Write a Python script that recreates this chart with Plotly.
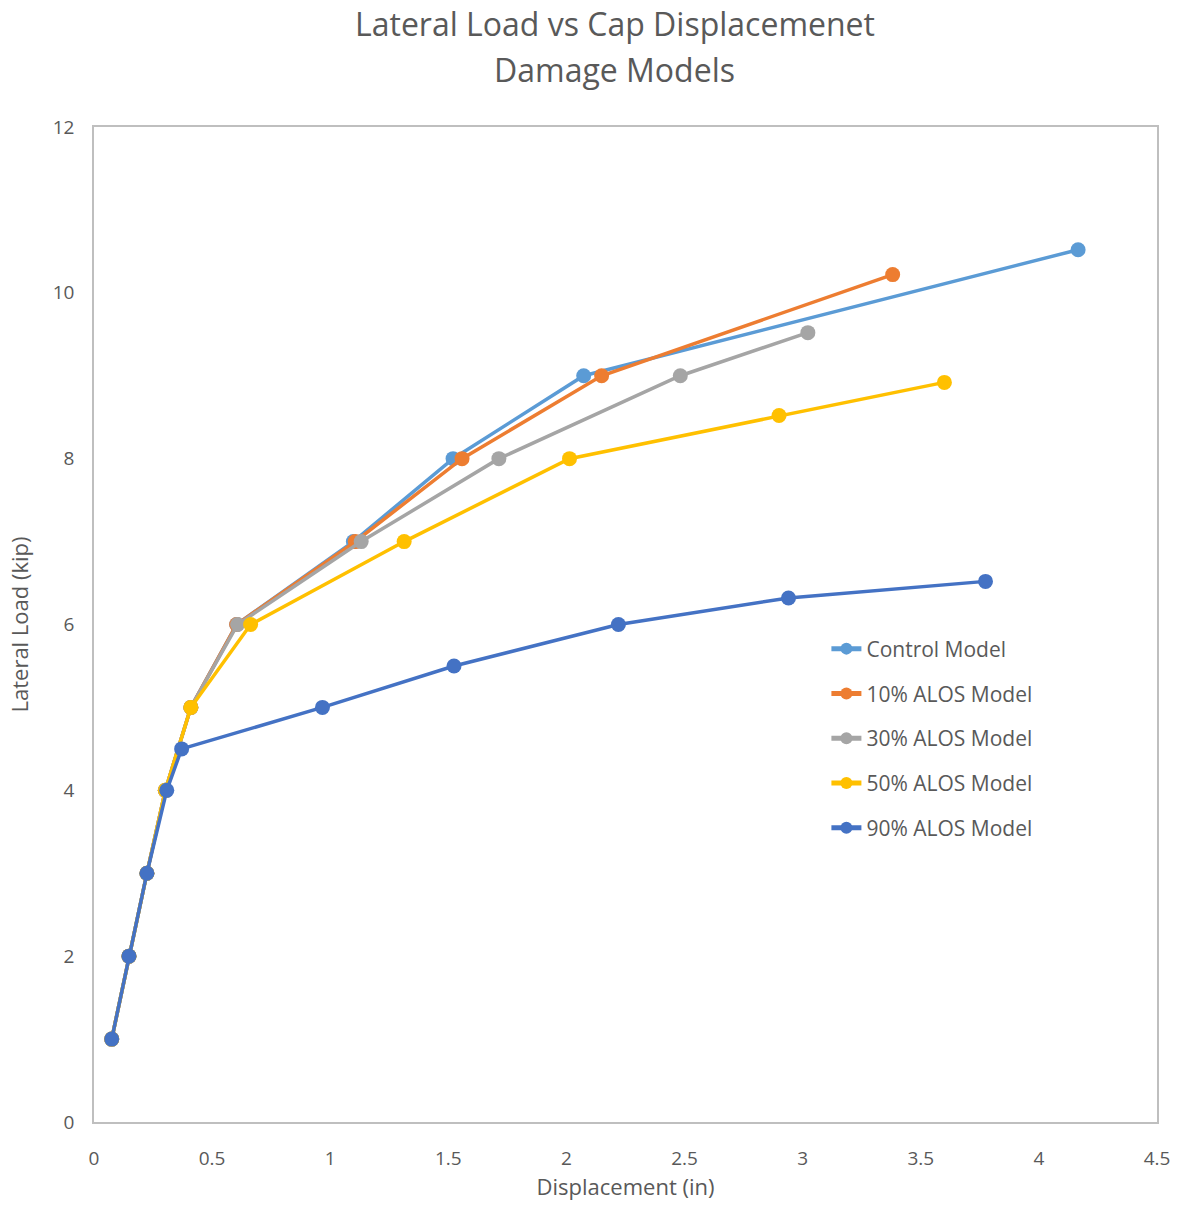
import plotly.graph_objects as go

# Lateral load (kip) vs cap displacement (in) for each damage model
control_disp = [0.075, 0.148, 0.224, 0.302, 0.41, 0.604, 1.098, 1.52, 2.073, 4.166]
control_load = [1, 2, 3, 4, 5, 6, 7, 8, 9, 10.52]

alos10_disp = [0.075, 0.148, 0.224, 0.302, 0.41, 0.604, 1.106, 1.558, 2.149, 3.381]
alos10_load = [1, 2, 3, 4, 5, 6, 7, 8, 9, 10.22]

alos30_disp = [0.075, 0.148, 0.224, 0.302, 0.41, 0.608, 1.131, 1.714, 2.482, 3.022]
alos30_load = [1, 2, 3, 4, 5, 6, 7, 8, 9, 9.52]

alos50_disp = [0.075, 0.148, 0.224, 0.302, 0.41, 0.663, 1.313, 2.013, 2.9, 3.6]
alos50_load = [1, 2, 3, 4, 5, 6, 7, 8, 8.52, 8.92]

alos90_disp = [0.075, 0.148, 0.224, 0.308, 0.371, 0.967, 1.524, 2.22, 2.94, 3.774]
alos90_load = [1, 2, 3, 4, 4.5, 5, 5.5, 6, 6.32, 6.52]

series = [
    ("Control Model", control_disp, control_load, "#5B9BD5"),
    ("10% ALOS Model", alos10_disp, alos10_load, "#ED7D31"),
    ("30% ALOS Model", alos30_disp, alos30_load, "#A5A5A5"),
    ("50% ALOS Model", alos50_disp, alos50_load, "#FFC000"),
    ("90% ALOS Model", alos90_disp, alos90_load, "#4472C4"),
]

title_lines = ["Lateral Load vs Cap Displacemenet", "Damage Models"]

x_ticks = [0, 0.5, 1, 1.5, 2, 2.5, 3, 3.5, 4, 4.5]
y_ticks = [0, 2, 4, 6, 8, 10, 12]

FONT = "Open Sans, Lato, sans-serif"
TEXT = "#595959"
AXIS = "#BFBFBF"

fig = go.Figure()
for i, (name, xs, ys, color) in enumerate(series):
    fig.add_trace(go.Scatter(
        x=xs, y=ys, name=name, mode="lines+markers",
        legendgroup=f"g{i}",
        line=dict(color=color, width=3.5),
        marker=dict(color=color, size=15),
    ))

# two-line chart title, placed as annotations above the plot area
for text, ypos in zip(title_lines, [1.1045, 1.0573]):
    fig.add_annotation(
        text=text, xref="paper", yref="paper", x=0.4897, y=ypos,
        xanchor="center", yanchor="middle", showarrow=False,
        font=dict(family=FONT, size=32, color=TEXT),
    )

fig.update_layout(
    width=1182, height=1205,
    paper_bgcolor="white", plot_bgcolor="white",
    margin=dict(l=94, r=22, t=127, b=83),
    font=dict(family=FONT, color=TEXT),
    legend=dict(
        x=0.689, y=0.496, xanchor="left", yanchor="top",
        font=dict(family=FONT, size=21, color=TEXT),
        bgcolor="rgba(0,0,0,0)", tracegroupgap=14.5,
        itemsizing="constant",
    ),
    showlegend=True,
)

fig.update_xaxes(
    range=[0, 4.5], tickvals=x_ticks, ticktext=[str(t) for t in x_ticks],
    showgrid=False, zeroline=False,
    showline=True, linecolor=AXIS, linewidth=1.5, mirror=True,
    ticks="", ticklabelstandoff=18,
    tickfont=dict(family=FONT, size=19, color=TEXT),
    title=dict(text="Displacement (in)", font=dict(family=FONT, size=22, color=TEXT), standoff=6),
)
fig.update_yaxes(
    range=[0, 12], tickvals=y_ticks, ticktext=[str(t) for t in y_ticks],
    showgrid=False, zeroline=False,
    showline=True, linecolor=AXIS, linewidth=1.5, mirror=True,
    ticks="", ticklabelstandoff=14,
    tickfont=dict(family=FONT, size=19, color=TEXT),
    title=dict(text="Lateral Load (kip)", font=dict(family=FONT, size=22, color=TEXT), standoff=18),
)

fig.write_html("out.html")
